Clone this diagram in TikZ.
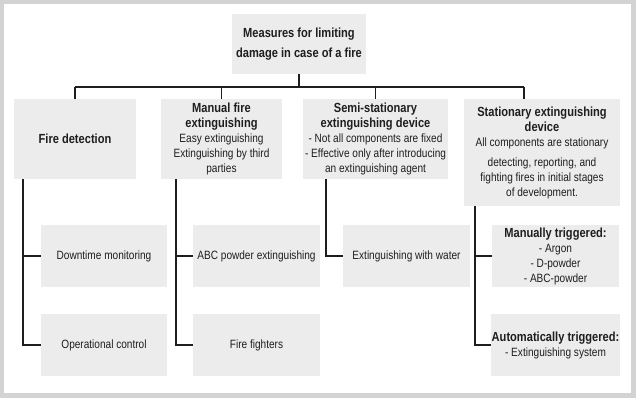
\documentclass[tikz,border=0pt]{standalone}
\usepackage{fontspec}
\setmainfont{Liberation Sans}[FakeStretch=0.84]
\definecolor{framegray}{HTML}{D3D3D3}
\definecolor{boxgray}{HTML}{ECECEC}
\definecolor{inkgray}{HTML}{1E1E1E}
\newcommand{\hd}[1]{{\fontsize{13.2}{15.5}\selectfont\bfseries #1}}
\begin{document}
\begin{tikzpicture}[x=1pt,y=-1pt,
    box/.style={fill=boxgray,align=center,text=inkgray,inner sep=1pt,
      font=\fontsize{12}{15}\selectfont},
    conn/.style={draw=inkgray,line width=1.5pt}]
    \fill[framegray] (0,0) rectangle (636,398);
    \fill[white] (4,4) rectangle (631,393);
    % top level
    \node[box,minimum width=134pt,minimum height=60pt] (top) at (299,44)
      {\hd{Measures for limiting}\\[4.5pt]\hd{damage in case of a fire}};
    % second row
    \node[box,minimum width=122pt,minimum height=80pt] (fire) at (75,139)
      {\hd{Fire detection}};
    \node[box,minimum width=121pt,minimum height=80pt] (manual) at (221.5,139)
      {\hd{Manual fire}\\\hd{extinguishing}\\Easy extinguishing\\Extinguishing by third\\parties};
    \node[box,minimum width=145pt,minimum height=80pt] (semi) at (375.5,139)
      {\hd{Semi-stationary}\\\hd{extinguishing device}\\- Not all components are fixed\\- Effective only after introducing\\an extinguishing agent};
    \node[box,minimum width=156pt,minimum height=107pt] (stat) at (542,152.5)
      {\hd{Stationary extinguishing}\\\hd{device}\\All components are stationary\\[5pt]detecting, reporting, and\\fighting fires in initial stages\\of development.};
    % third row
    \node[box,minimum width=126pt,minimum height=62pt] (down) at (104,256) {Downtime monitoring};
    \node[box,minimum width=126pt,minimum height=62pt] (oper) at (104,345) {Operational control};
    \node[box,minimum width=127pt,minimum height=62pt] (abc) at (256.5,256) {ABC powder extinguishing};
    \node[box,minimum width=127pt,minimum height=62pt] (fighters) at (256.5,345) {Fire fighters};
    \node[box,minimum width=127pt,minimum height=62pt] (water) at (406.5,256) {Extinguishing with water};
    \node[box,minimum width=127pt,minimum height=62pt] (mantrig) at (555.5,256)
      {\hd{Manually triggered:}\\- Argon\\- D-powder\\- ABC-powder};
    \node[box,minimum width=127pt,minimum height=62pt] (autotrig) at (555.5,345)
      {\hd{Automatically triggered:}\\- Extinguishing system};
    % connectors
    \coordinate (busL) at (75,87);
    \coordinate (busR) at (524,87);
    \draw[conn] (top.south) -- (top.south |- busL);
    \draw[conn] (busL) -- (busR);
    \foreach \n in {fire,manual,semi}
      \draw[conn] (\n.north |- busL) -- (\n.north);
    \draw[conn] (busR) -- (busR |- stat.north);
    \draw[conn] (fire.south west) ++(9,0) |- (down.west);
    \draw[conn] (fire.south west) ++(9,0) |- (oper.west);
    \draw[conn] (manual.south west) ++(15,0) |- (abc.west);
    \draw[conn] (manual.south west) ++(15,0) |- (fighters.west);
    \draw[conn] (semi.south west) ++(23,0) |- (water.west);
    \draw[conn] (stat.south west) ++(11,0) |- (mantrig.west);
    \draw[conn] (stat.south west) ++(11,0) |- (autotrig.west);
\end{tikzpicture}
\end{document}
